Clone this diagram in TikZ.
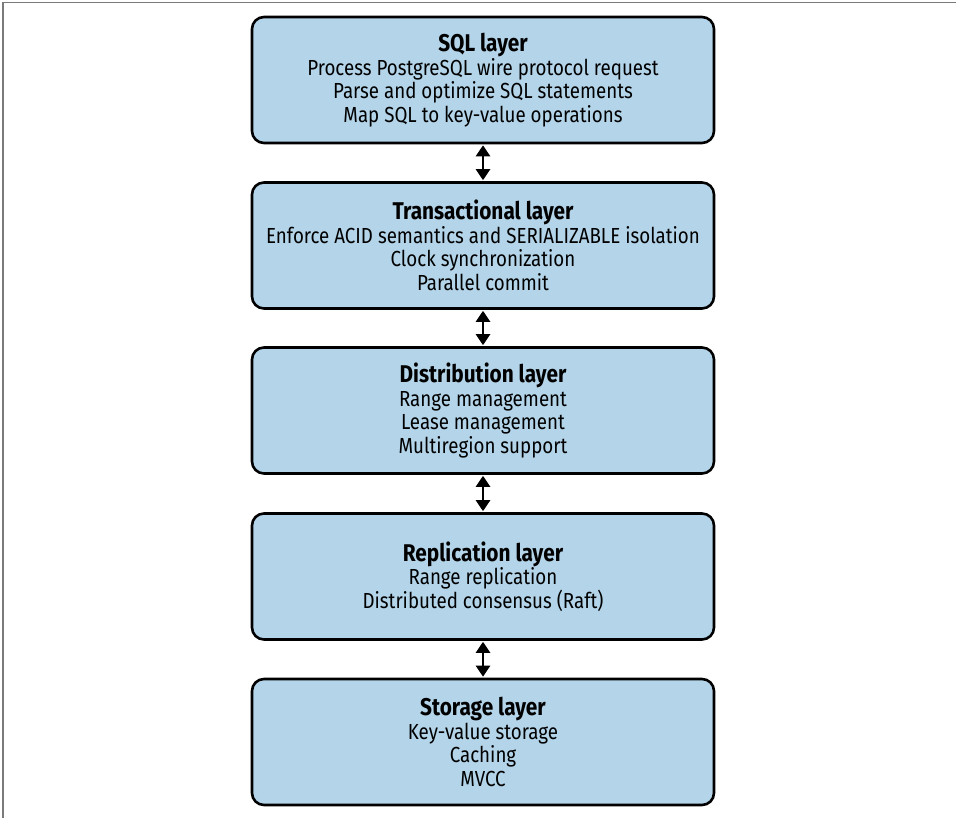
\documentclass[tikz,border=0pt]{standalone}
\usepackage{fontspec}
\setmainfont[FakeStretch=0.86]{Fira Sans}
\usetikzlibrary{arrows.meta}
\definecolor{layerfill}{HTML}{B3D4E9}
\definecolor{framegray}{HTML}{7A7A7A}
\begin{document}
\begin{tikzpicture}[x=1pt,y=-1pt,
  layerbox/.style={draw=black, line width=2.6pt, fill=layerfill, rounded corners=12pt,
    minimum width=462pt, minimum height=126pt, align=center, inner sep=0pt,
    font=\fontsize{21.8}{23.6}\selectfont},
  link/.style={line width=2.6pt, {Triangle[width=14pt,length=11pt]}-{Triangle[width=14pt,length=11pt]}, shorten <=1pt, shorten >=1pt}
]
\useasboundingbox (0,0) rectangle (956,818);
% page frame
\draw[framegray, line width=1.5pt] (3,818) -- (3,2.5) -- (956,2.5);

\newcommand{\ttl}[1]{{\fontsize{24.2}{23.6}\selectfont\bfseries #1}}

\node[layerbox] (sql) at (483,80) {\ttl{SQL layer}\\Process PostgreSQL wire protocol request\\Parse and optimize SQL statements\\Map SQL to key-value operations};
\node[layerbox] (txn) at (483,245.5) {\ttl{Transactional layer}\\Enforce ACID semantics and SERIALIZABLE isolation\\Clock synchronization\\Parallel commit};
\node[layerbox] (dist) at (483,410.5) {\ttl{Distribution layer}\\Range management\\Lease management\\Multiregion support};
\node[layerbox] (repl) at (483,576.5) {\ttl{Replication layer}\\Range replication\\Distributed consensus (Raft)};
\node[layerbox] (stor) at (483,742) {\ttl{Storage layer}\\Key-value storage\\Caching\\MVCC};

\draw[link] (sql.south) -- (txn.north);
\draw[link] (txn.south) -- (dist.north);
\draw[link] (dist.south) -- (repl.north);
\draw[link] (repl.south) -- (stor.north);
\end{tikzpicture}
\end{document}
